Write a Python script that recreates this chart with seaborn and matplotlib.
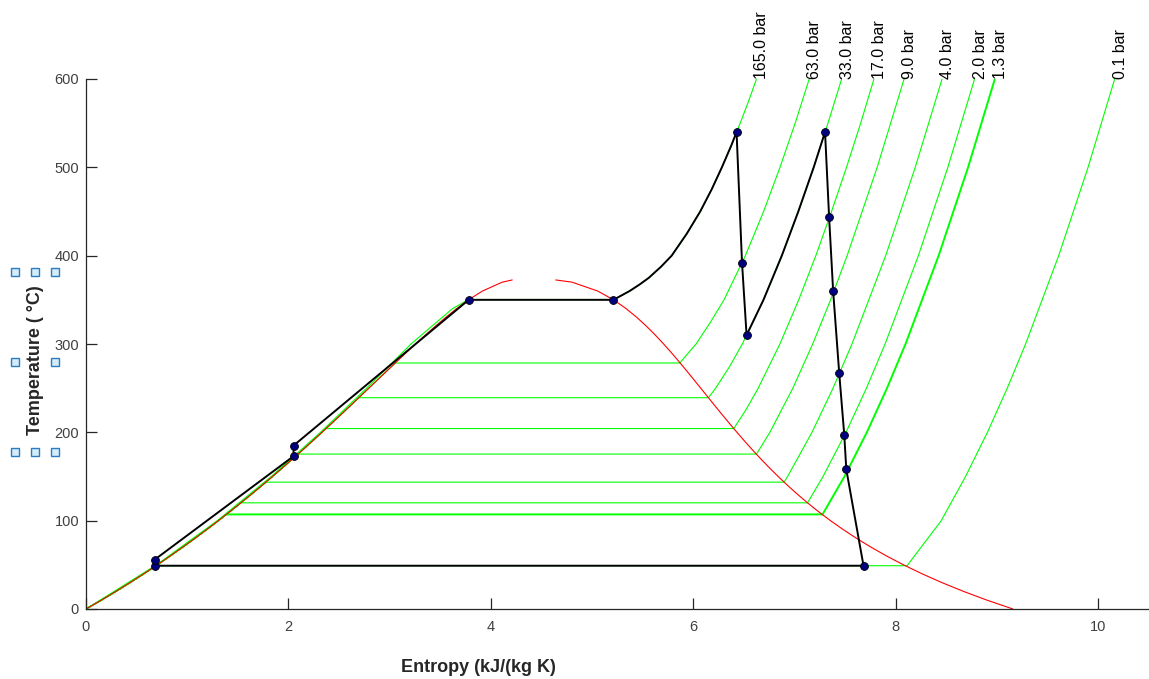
import numpy as np
import pandas as pd
import matplotlib
matplotlib.use('Agg')
import matplotlib.pyplot as plt
from matplotlib.lines import Line2D
import seaborn as sns

# saturation dome of water (T in degC, s in kJ/(kg K)), gap left near the critical point
sat_T = [0.01, 10, 20, 30, 40, 50, 60, 70, 80, 90, 100, 110, 120, 130, 140, 150, 160, 170, 180, 190,
         200, 210, 220, 230, 240, 250, 260, 270, 280, 290, 300, 310, 320, 330, 340, 350, 360, 370, 372.5]
sat_sf = [0.0, 0.1511, 0.2965, 0.4368, 0.5724, 0.7038, 0.8313, 0.9551, 1.0756, 1.1929, 1.3072, 1.4188,
          1.5279, 1.6346, 1.7392, 1.8418, 1.9426, 2.0417, 2.1392, 2.2355, 2.3305, 2.4245, 2.5177, 2.6101,
          2.7020, 2.7935, 2.8849, 2.9765, 3.0685, 3.1612, 3.2552, 3.3510, 3.4494, 3.5518, 3.6601, 3.7784,
          3.9167, 4.1112, 4.21]
sat_sg = [9.1555, 8.8998, 8.6661, 8.4520, 8.2555, 8.0748, 7.9081, 7.7540, 7.6111, 7.4781, 7.3541, 7.2381,
          7.1291, 7.0264, 6.9293, 6.8371, 6.7491, 6.6650, 6.5840, 6.5059, 6.4302, 6.3563, 6.2840, 6.2128,
          6.1423, 6.0721, 6.0016, 5.9304, 5.8579, 5.7834, 5.7059, 5.6244, 5.5372, 5.4422, 5.3356, 5.2110,
          5.0536, 4.8012, 4.64]

# isobars
p_labels = ['165.0 bar', '63.0 bar', '33.0 bar', '17.0 bar', '9.0 bar', '4.0 bar', '2.0 bar', '1.3 bar', '0.1 bar']
p_tsat = [350.4, 278.5, 239.2, 204.3, 175.4, 143.6, 120.2, 107.1, 49.0]
p_sf = [3.78, 3.055, 2.695, 2.371, 2.095, 1.777, 1.530, 1.387, 0.691]
sh_T = [
    [350.4, 355, 360, 367.5, 375, 387.5, 400, 425, 450, 475, 500, 525, 540, 550, 575, 600],
    [278.5, 290, 300, 325, 350, 400, 450, 500, 550, 600],
    [239.2, 250, 275, 300, 350, 400, 450, 500, 550, 600],
    [204.3, 225, 250, 300, 350, 400, 450, 500, 550, 600],
    [175.4, 200, 250, 300, 350, 400, 500, 600],
    [143.6, 150, 200, 250, 300, 400, 500, 600],
    [120.2, 150, 200, 250, 300, 400, 500, 600],
    [107.1, 150, 200, 250, 300, 400, 500, 600],
    [49.0, 100, 150, 200, 250, 300, 400, 500, 600],
]
sh_s = [
    [5.21, 5.29, 5.37, 5.47, 5.56, 5.68, 5.785, 5.935, 6.067, 6.18, 6.281, 6.375, 6.426, 6.462, 6.545, 6.623],
    [5.866, 5.95, 6.026, 6.17, 6.302, 6.513, 6.693, 6.855, 7.005, 7.144],
    [6.148, 6.220, 6.36, 6.483, 6.692, 6.873, 7.036, 7.188, 7.329, 7.464],
    [6.398, 6.516, 6.640, 6.854, 7.040, 7.209, 7.364, 7.512, 7.652, 7.783],
    [6.623, 6.755, 6.982, 7.178, 7.355, 7.518, 7.815, 8.081],
    [6.896, 6.930, 7.171, 7.379, 7.566, 7.899, 8.191, 8.456],
    [7.127, 7.280, 7.507, 7.709, 7.893, 8.222, 8.513, 8.777],
    [7.275, 7.492, 7.713, 7.912, 8.095, 8.422, 8.713, 8.977],
    [8.11, 8.448, 8.688, 8.904, 9.100, 9.281, 9.608, 9.898, 10.161],
]
# compressed liquid at 165 bar
liq165_T = [0.01, 50, 100, 150, 200, 250, 300, 340, 350.4]
liq165_s = [0.0, 0.697, 1.297, 1.830, 2.316, 2.772, 3.210, 3.62, 3.78]

# reheat-regenerative Rankine cycle path
cyc_s = [0.68, 0.68, 2.05, 2.05, 3.78, 5.21, 5.29, 5.37, 5.47, 5.56, 5.68, 5.785, 5.935, 6.067, 6.18,
         6.281, 6.375, 6.426,
         6.48, 6.525, 6.692, 6.873, 7.036, 7.188, 7.30,
         7.34, 7.38, 7.44, 7.49, 7.51, 7.68, 0.68]
cyc_T = [49, 56, 173, 185, 350, 350, 355, 360, 367.5, 375, 387.5, 400, 425, 450, 475,
         500, 525, 540,
         392, 310, 350, 400, 450, 500, 540,
         444, 360, 267, 197, 158, 49, 49]
# cycle state points
pt_s = [0.68, 0.68, 2.05, 2.05, 3.78, 5.21, 6.426, 6.48, 6.525, 7.30, 7.34, 7.38, 7.44, 7.49, 7.51, 7.68]
pt_T = [49, 56, 173, 185, 350, 350, 540, 392, 310, 540, 444, 360, 267, 197, 158, 49]

sns.set_theme(style='white')
plt.rcParams['font.family'] = ['Liberation Sans', 'DejaVu Sans']

fig = plt.figure(figsize=(11.49, 6.79), dpi=100)
ax = fig.add_axes([86 / 1149, 70 / 679, 1063 / 1149, 530 / 679])

green = '#00ff00'
# liquid branches of isobars follow the dome
for i, ts in enumerate(p_tsat):
    if i == 0:
        ls_, lt_ = liq165_s, liq165_T
    else:
        lt_ = [t for t in sat_T if t < ts] + [ts]
        ls_ = [s for s, t in zip(sat_sf, sat_T) if t < ts] + [p_sf[i]]
    sns.lineplot(x=ls_, y=lt_, sort=False, estimator=None, color=green, lw=0.8, ax=ax)
    # two-phase horizontal + superheated part
    xs = [p_sf[i]] + sh_s[i]
    ys = [ts] + sh_T[i]
    sns.lineplot(x=xs, y=ys, sort=False, estimator=None, color=green,
                 lw=1.4 if p_labels[i] == '1.3 bar' else 0.8, ax=ax)
    ax.text(sh_s[i][-1] - 0.02, sh_T[i][-1], p_labels[i], rotation=90, ha='left', va='bottom',
            fontsize=11.5, color='black')

# saturation dome
sns.lineplot(x=sat_sf, y=sat_T, sort=False, estimator=None, color='#ff0000', lw=0.8, ax=ax)
sns.lineplot(x=sat_sg, y=sat_T, sort=False, estimator=None, color='#ff0000', lw=0.8, ax=ax)

# cycle
sns.lineplot(x=cyc_s, y=cyc_T, sort=False, estimator=None, color='black', lw=1.4, ax=ax)
sns.scatterplot(x=pt_s, y=pt_T, color='#000080', edgecolor='black', linewidth=0.6, s=32, zorder=5, ax=ax)

ax.set_xlim(0, 10.5)
ax.set_ylim(0, 600)
ax.set_xticks([0, 2, 4, 6, 8, 10])
ax.set_yticks(range(0, 700, 100))
sns.despine(ax=ax)
for side in ['left', 'bottom']:
    ax.spines[side].set_color('#262626')
    ax.spines[side].set_linewidth(0.9)
ax.tick_params(axis='both', direction='in', length=8, width=0.9, color='#262626',
               labelcolor='#404040', labelsize=10.5, left=True, bottom=True)
ax.tick_params(axis='x', pad=8)
ax.tick_params(axis='y', pad=5)

ax.set_xlabel('Entropy (kJ/(kg K)', fontsize=13, fontweight='bold', color='#262626', va='center')
ax.set_ylabel('Temperature ( °C)', fontsize=13, fontweight='bold', color='#262626', va='center')
ax.xaxis.set_label_coords((478 - 86) / 1063, (609 - 667) / 530)
ax.yaxis.set_label_coords((36 - 86) / 1063, (609 - 360) / 530)

# selection handles around the y label
hx = [15, 35, 55, 15, 55, 15, 35, 55]
hy = [272, 272, 272, 362, 362, 452, 452, 452]
fig.add_artist(Line2D([x / 1149 for x in hx], [1 - y / 679 for y in hy], transform=fig.transFigure,
                      ls='none', marker='s', markersize=5.5, markerfacecolor='#d4ebfb',
                      markeredgecolor='#2b7bc0', markeredgewidth=1.0))

fig.savefig('out.png', dpi=100)
